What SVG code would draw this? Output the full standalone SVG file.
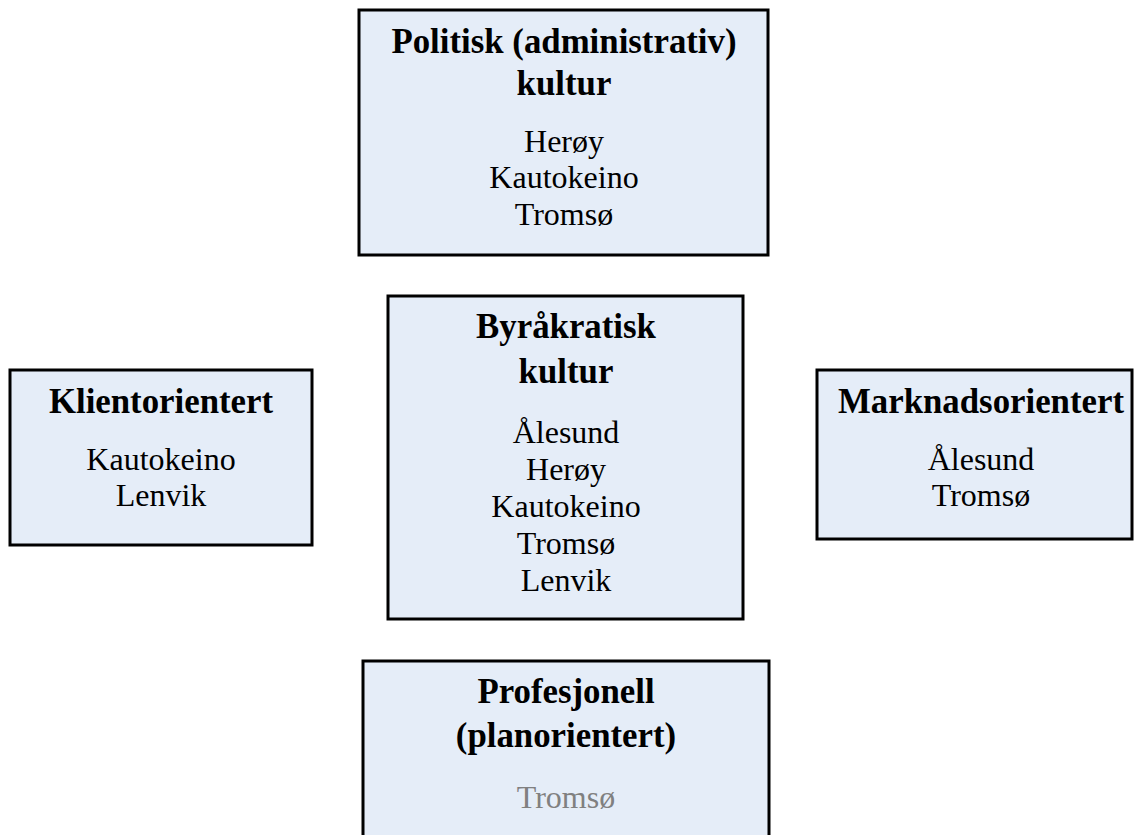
<svg xmlns="http://www.w3.org/2000/svg" width="1140" height="835" viewBox="0 0 1140 835">
  <style>
    .box { fill: #e5edf8; stroke: #000000; stroke-width: 3; }
    .title { font-family: "Liberation Serif", "Times New Roman", serif; font-weight: bold; font-size: 34.8px; fill: #000000; text-anchor: middle; }
    .item { font-family: "Liberation Serif", "Times New Roman", serif; font-size: 32px; fill: #000000; text-anchor: middle; }
    .muted { fill: #808080; }
  </style>
  <rect width="1140" height="835" fill="#ffffff"/>

  <g id="connectors"></g>

  <!-- Political (administrative) culture -->
  <g id="node-politisk">
    <rect class="box" x="359" y="10" width="409" height="245"/>
    <text class="title" x="564" y="53">Politisk (administrativ)</text>
    <text class="title" x="564" y="95">kultur</text>
    <text class="item" x="564" y="152">Herøy</text>
    <text class="item" x="564" y="188">Kautokeino</text>
    <text class="item" x="564" y="225">Tromsø</text>
  </g>

  <!-- Bureaucratic culture -->
  <g id="node-byrakratisk">
    <rect class="box" x="388" y="296" width="355" height="323"/>
    <text class="title" x="566" y="338">Byråkratisk</text>
    <text class="title" x="566" y="383">kultur</text>
    <text class="item" x="566" y="443">Ålesund</text>
    <text class="item" x="566" y="480">Herøy</text>
    <text class="item" x="566" y="517">Kautokeino</text>
    <text class="item" x="566" y="554">Tromsø</text>
    <text class="item" x="566" y="591">Lenvik</text>
  </g>

  <!-- Client oriented -->
  <g id="node-klient">
    <rect class="box" x="10" y="370" width="302" height="175"/>
    <text class="title" x="161" y="413">Klientorientert</text>
    <text class="item" x="161" y="470">Kautokeino</text>
    <text class="item" x="161" y="506">Lenvik</text>
  </g>

  <!-- Market oriented -->
  <g id="node-marknad">
    <rect class="box" x="817" y="370" width="315" height="169"/>
    <text class="title" x="981" y="413">Marknadsorientert</text>
    <text class="item" x="981" y="470">Ålesund</text>
    <text class="item" x="981" y="506">Tromsø</text>
  </g>

  <!-- Professional (plan oriented) -->
  <g id="node-profesjonell">
    <rect class="box" x="363" y="661" width="406" height="190"/>
    <text class="title" x="566" y="703">Profesjonell</text>
    <text class="title" x="566" y="747">(planorientert)</text>
    <text class="item muted" x="566" y="808">Tromsø</text>
  </g>
</svg>
